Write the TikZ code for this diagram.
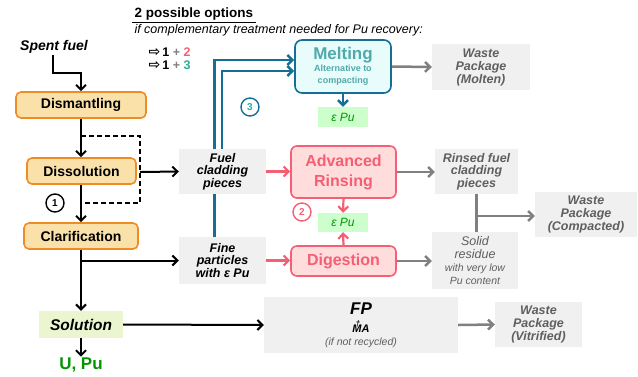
\documentclass[tikz,border=0pt]{standalone}
\usepackage{fontspec}
\setmainfont{Liberation Sans}
\newfontfamily\djv{DejaVu Sans}
\usetikzlibrary{arrows.meta,calc}
\pgfdeclarelayer{bg}\pgfsetlayers{bg,main}
\definecolor{orfill}{RGB}{250,225,170}
\definecolor{ordraw}{RGB}{240,140,40}
\definecolor{pkdraw}{RGB}{245,95,115}
\definecolor{pkfill}{RGB}{255,221,221}
\definecolor{bldraw}{RGB}{20,110,150}
\definecolor{blfill}{RGB}{232,252,252}
\definecolor{tltext}{RGB}{80,170,170}
\definecolor{gyfill}{RGB}{240,240,240}
\definecolor{gyline}{RGB}{128,128,128}
\definecolor{gytext}{RGB}{95,95,95}
\definecolor{gnfill}{RGB}{204,255,204}
\definecolor{gntext}{RGB}{0,150,0}
\definecolor{solfill}{RGB}{235,245,208}
\definecolor{tealthree}{RGB}{40,170,160}
\newcommand\fsz[2]{\fontsize{#1}{#2}\selectfont}
\begin{document}
\begin{tikzpicture}[x=1pt,y=-1pt,
  >={Straight Barb[length=5pt,width=10pt]},
  proc/.style={draw=ordraw,fill=orfill,line width=1.6pt,rounded corners=5pt,inner sep=0pt,
    font=\bfseries\fsz{14}{16}},
  gbox/.style={fill=gyfill,inner sep=0pt,align=center,font=\bfseries\itshape\fsz{12.5}{12.5}},
  gtbox/.style={gbox,text=gytext},
  pbox/.style={draw=pkdraw,fill=pkfill,line width=1.6pt,rounded corners=6pt,inner sep=0pt,
    align=center,text=pkdraw,font=\bfseries\fsz{16}{20}},
  epu/.style={fill=gnfill,inner sep=0pt,minimum width=50pt,minimum height=19pt,
    text=gntext,font=\itshape\fsz{12}{14}},
  circ/.style={circle,line width=1.4pt,minimum size=18pt,inner sep=0pt,font=\bfseries\fsz{10}{10}},
  arr/.style={->,line width=2pt,black},
  parr/.style={->,line width=2.2pt,pkdraw},
  garr/.style={->,line width=2.5pt,gyline},
  barr/.style={->,line width=2.5pt,bldraw}]
\useasboundingbox (0,0) rectangle (638,376);

% title
\node[anchor=west,font=\bfseries\fsz{13.5}{15}] (title) at (131,14) {2 possible options};
\draw[line width=1.2pt] (title.south west) ++(1,-1) -- ([xshift=-1pt,yshift=1pt]title.south east);
\node[anchor=west,font=\itshape\fsz{12.5}{14}] (sub) at (131,30) {if complementary treatment needed for Pu recovery:};
\node[anchor=west,font=\bfseries\fsz{12.5}{14}] (opta) at (145,52) {{\djv\bfseries\fsz{14}{14}⇨}\,1 \textcolor{gyline}{+} \textcolor{pkdraw}{2}};
\node[anchor=west,font=\bfseries\fsz{12.5}{14}] (optb) at (145,65) {{\djv\bfseries\fsz{14}{14}⇨}\,1 \textcolor{gyline}{+} \textcolor{tealthree}{3}};

% left column
\node[font=\bfseries\itshape\fsz{14}{16},inner sep=1pt] (spent) at (54,47) {Spent fuel};
\node[proc,minimum width=130pt,minimum height=26pt] (dism) at (81,105) {Dismantling};
\node[proc,minimum width=109pt,minimum height=26pt] (diss) at (81.5,171) {Dissolution};
\node[proc,minimum width=114pt,minimum height=26pt] (clar) at (81,236) {Clarification};
\node[fill=solfill,inner sep=0pt,minimum width=84pt,minimum height=27pt,
  font=\bfseries\itshape\fsz{15.5}{17}] (sol) at (81,324.5) {Solution};
\node[text=gntext,font=\bfseries\fsz{17}{19},inner sep=1pt] (upu) at (81,365) {U, Pu};
\node[circ,draw=black] (cone) at (55,203) {1};

\coordinate (sj) at (53,73);
\coordinate (dsa) at (81,136);
\coordinate (dsb) at (140,203);
\coordinate (dsr) at (140,172);

% middle gray boxes
\node[gbox,minimum width=87pt,minimum height=45pt] (fuelclad) at (222.5,171.5) {Fuel\\cladding\\pieces};
\node[gbox,minimum width=87pt,minimum height=47pt] (fine) at (222.5,260.5) {Fine\\particles\\with ε Pu};

% melting branch
\node[draw=bldraw,fill=blfill,line width=1.6pt,rounded corners=7pt,inner sep=0pt,
  minimum width=96pt,minimum height=53pt,align=center,text=tltext,font=\bfseries]
  (melt) at (343,66.5) {\fsz{17}{15}Melting\\\fsz{9}{11}Alternative to\\\fsz{9}{11}compacting};
\node[epu,minimum height=20pt] (epua) at (343,117) {ε Pu};
\node[gtbox,minimum width=98pt,minimum height=46pt,font=\bfseries\itshape\fsz{12.5}{13}] (molten) at (481,67) {Waste\\Package\\(Molten)};
\node[circ,draw=bldraw,text=tealthree] (cthree) at (250,107) {3};

% rinsing branch
\node[pbox,minimum width=105pt,minimum height=52pt] (adv) at (343.5,172) {Advanced\\Rinsing};
\node[epu] (epub) at (343,222.5) {ε Pu};
\node[pbox,minimum width=105pt,minimum height=30pt] (dig) at (343.5,261) {Digestion};
\node[circ,draw=pkdraw,text=pkdraw] (ctwo) at (302,212) {2};
\node[gtbox,minimum width=83pt,minimum height=45pt] (rinsed) at (476.5,171.5) {Rinsed fuel\\cladding\\pieces};
\node[gbox,text=gytext,minimum width=86pt,minimum height=57pt,font=\itshape\fsz{12.5}{13}] (solid) at (475,260.5)
  {Solid\\residue\\\fsz{10.5}{13}with very low\\\fsz{10.5}{13}Pu content};
\node[gtbox,minimum width=102pt,minimum height=45pt,font=\bfseries\itshape\fsz{12.5}{13}] (compacted) at (586,214.5) {Waste\\Package\\(Compacted)};

% bottom
\node[fill=gyfill,inner sep=0pt,minimum width=194pt,minimum height=56pt,align=center] (fp) at (361,325)
  {\bfseries\itshape\fsz{17}{18}FP\\[6pt]
   \bfseries\itshape\fsz{11}{14}M\llap{\raisebox{0.5em}{\fsz{8}{8}†}\kern1.5pt}A\\[1pt]
   \mdseries\itshape\fsz{10.5}{13}\color{gytext}(if not recycled)};
\node[gtbox,minimum width=87pt,minimum height=45pt,font=\bfseries\itshape\fsz{12.5}{13}] (vitr) at (538.5,324.5) {Waste\\Package\\(Vitrified)};

% connectors left
\draw[arr] (spent.south -| sj) -- (sj) -| (dism.north);
\draw[arr] (dism.south) -- (dism.south |- diss.north);
\draw[line width=1.7pt,dash pattern=on 5pt off 3pt] (dsa) -| (dsb) -- (dsb -| dsa);
\draw[arr] (dsr) -- (fuelclad.west);
\draw[arr] (diss.south -| clar.north) -- (clar.north);
\draw[arr] (clar.south) -- (sol.north);
\draw[arr] (clar.south |- fine.west) -- (fine.west);
\draw[arr] (sol.south) -- (upu.north);
\draw[arr] (sol.east) -- (fp.west);
\draw[garr] (fp.east) -- (vitr.west);

% blue connectors
\coordinate (ba) at (214.5,60);
\coordinate (bb) at (222,71);
\begin{pgfonlayer}{bg}
\draw[barr] (fine.north -| ba) -- (ba) -- (ba -| melt.west);
\end{pgfonlayer}
\draw[barr] (fuelclad.north -| bb) -- (bb) -- (bb -| melt.west);
\draw[barr] (melt.south) -- (epua.north);
\draw[garr] (melt.east) -- (molten.west);

% pink connectors
\draw[parr] (fuelclad.east) -- (fuelclad.east -| adv.west);
\draw[parr] (fine.east) -- (fine.east -| dig.west);
\draw[parr] (adv.south) -- (epub.north);
\draw[parr] (dig.north) -- (epub.south);

% gray connectors right
\draw[garr] (adv.east) -- (adv.east -| rinsed.west);
\draw[garr] (dig.east) -- (dig.east -| solid.west);
\draw[line width=2.5pt,gyline] (rinsed.south) -- (rinsed.south |- solid.north);
\draw[garr] ([yshift=-1.5pt]rinsed.south |- compacted.west) -- ([yshift=-1.5pt]compacted.west);
\end{tikzpicture}
\end{document}
